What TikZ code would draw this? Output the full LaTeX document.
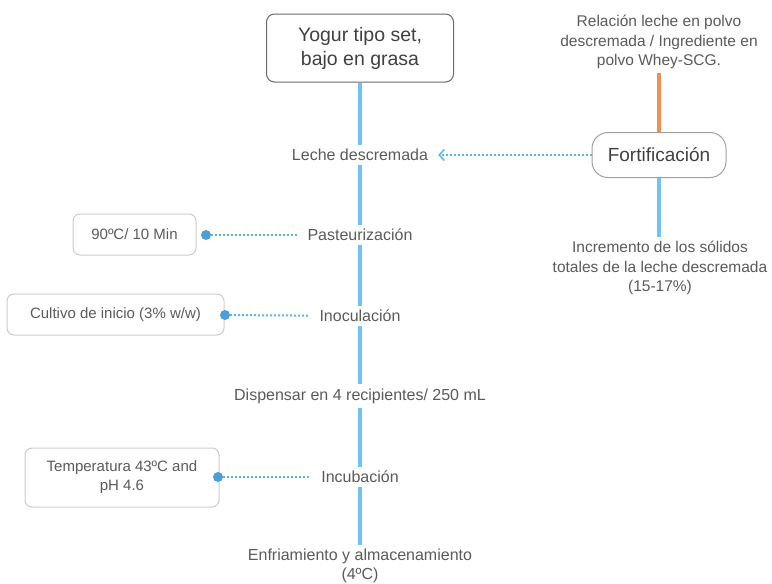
\documentclass[tikz,border=0pt]{standalone}
\usepackage{fontspec}
\setmainfont{Liberation Sans}
\usetikzlibrary{arrows.meta}
\definecolor{txtgray}{HTML}{5A5A5A}
\definecolor{titletxt}{HTML}{404040}
\definecolor{titlegray}{HTML}{6A6A6A}
\definecolor{fortgray}{HTML}{A0A0A0}
\definecolor{boxgray}{HTML}{CCCCCC}
\definecolor{lineblue}{HTML}{6EC3F7}
\definecolor{hintblue}{HTML}{5DB3EC}
\definecolor{dotblue}{HTML}{4A9FD8}
\definecolor{fortorange}{HTML}{F58E4F}

\begin{document}
\begin{tikzpicture}[x=1pt, y=-1pt,
  stepbox/.style={text=txtgray, font=\fontsize{16}{19.5}\selectfont, align=center, inner xsep=10pt, inner ysep=4pt},
  sidebox/.style={text=txtgray, font=\fontsize{15.5}{19.5}\selectfont, align=center, inner sep=4pt},
  notebox/.style={draw=boxgray, line width=1pt, rounded corners=7pt, text=txtgray, font=\fontsize{15}{19}\selectfont, align=center, inner sep=0pt},
  flow/.style={lineblue, line width=4pt},
  hint/.style={hintblue, line width=2pt, dash pattern=on 2pt off 2pt},
  pin/.style={circle, fill=dotblue, minimum size=10pt, inner sep=0pt}]
\useasboundingbox (0,0) rectangle (772,584);

% producto
\node[draw=titlegray, line width=1pt, rounded corners=8pt, minimum width=187pt, minimum height=68pt, inner sep=0pt, text=titletxt, font=\fontsize{19.5}{24}\selectfont, align=center] (yogur) at (360,48) {Yogur tipo set,\\bajo en grasa};

% etapas del proceso
\node[stepbox] (leche) at (360,155) {Leche descremada};
\node[stepbox] (pasteur) at (360,235) {Pasteurización};
\node[stepbox] (inocula) at (360,316) {Inoculación};
\node[stepbox] (dispensa) at (360,396) {Dispensar en 4 recipientes/ 250 mL};
\node[stepbox] (incuba) at (360,477) {Incubación};
\node[stepbox] (enfria) at (360,566) {Enfriamiento y almacenamiento\\(4ºC)};

\draw[flow] (yogur) -- (leche);
\draw[flow] (leche) -- (pasteur);
\draw[flow] (pasteur) -- (inocula);
\draw[flow] (inocula) -- (dispensa);
\draw[flow] (dispensa) -- (incuba);
\draw[flow] (incuba) -- (enfria);

% fortificacion
\node[draw=fortgray, line width=1pt, rounded corners=16pt, minimum width=134pt, minimum height=45pt, inner sep=0pt, text=titletxt, font=\fontsize{19}{23}\selectfont] (fort) at (659,155) {Fortificación};
\node[sidebox] (relacion) at (659,42) {Relación leche en polvo\\descremada / Ingrediente en\\polvo Whey-SCG.};
\node[sidebox] (incremento) at (660,268) {Incremento de los sólidos\\totales de la leche descremada\\(15-17\%)};

\draw[fortorange, line width=4pt] (fort) -- (relacion);
\draw[flow] (fort.south) -- (fort.south |- incremento.north);
\draw[hint, -{Straight Barb[length=5pt, width=11pt, line width=1.5pt]}] (fort) -- (leche);

% condiciones
\node[notebox, minimum width=123pt, minimum height=41pt] (calor) at (134.5,234.5) {90ºC/ 10 Min};
\node[pin] (p1) at (206,235) {};
\draw[hint] (p1) -- (pasteur);

\node[notebox, minimum width=217pt, minimum height=41pt] (cultivo) at (115.5,314.5) {Cultivo de inicio (3\% w/w)};
\node[pin] (p2) at (225,315) {};
\draw[hint] (p2) -- (inocula);

\node[notebox, minimum width=194pt, minimum height=59pt] (temp) at (122,477.5) {Temperatura 43ºC and\\pH 4.6};
\node[pin] (p3) at (218,477) {};
\draw[hint] (p3) -- (incuba);
\end{tikzpicture}
\end{document}
